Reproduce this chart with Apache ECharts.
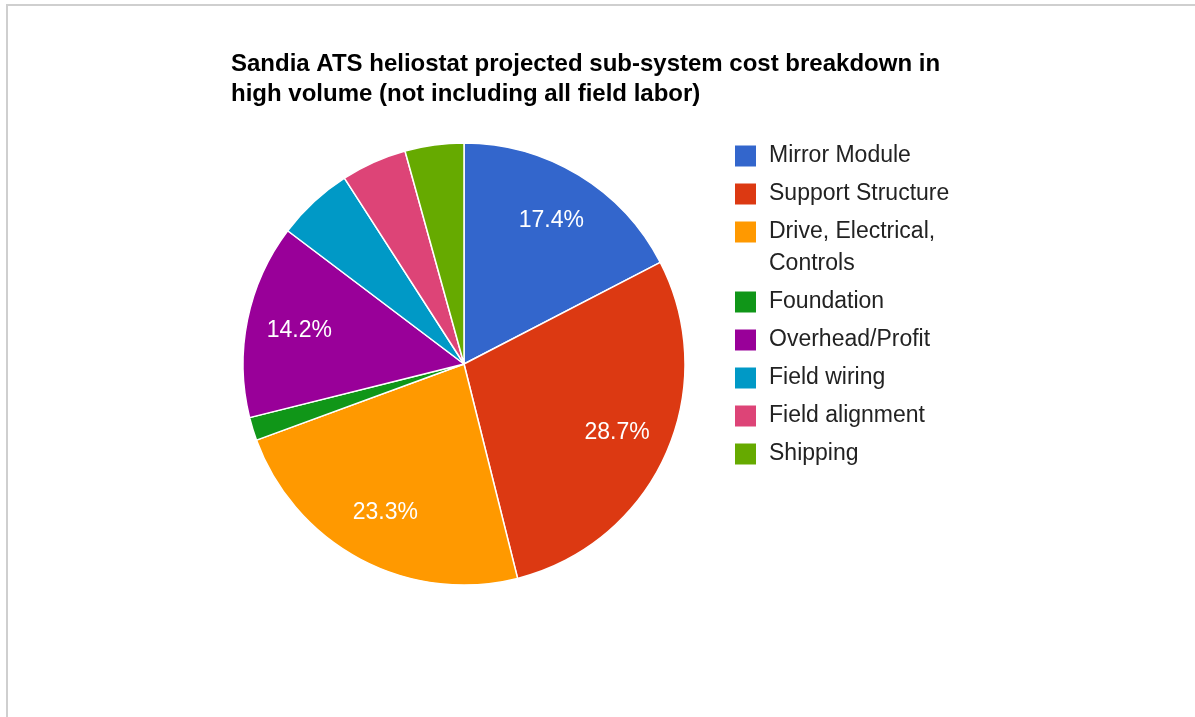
<!DOCTYPE html>
<html>
<head>
<meta charset="utf-8">
<script src="https://cdn.jsdelivr.net/npm/echarts@6/dist/echarts.min.js"></script>
<style>
html,body{margin:0;padding:0;background:#fff;}
#frame{position:absolute;left:6px;top:4px;width:1189px;height:713px;border-left:2px solid #cfcfcf;border-top:2px solid #cfcfcf;box-sizing:border-box;}
#chart{position:absolute;left:0;top:0;width:1195px;height:717px;}
</style>
</head>
<body>
<div id="frame"></div>
<div id="chart"></div>
<script>
var titleLines = ['Sandia ATS heliostat projected sub-system cost breakdown in', 'high volume (not including all field labor)'];
var categories = ['Mirror Module', 'Support Structure', 'Drive, Electrical, Controls', 'Foundation', 'Overhead/Profit', 'Field wiring', 'Field alignment', 'Shipping'];
var values = [17.4, 28.7, 23.3, 1.7, 14.2, 5.6, 4.8, 4.3];
var colors = ['#3366cc', '#dc3912', '#ff9900', '#109618', '#990099', '#0099c6', '#dd4477', '#66aa00'];

var data = categories.map(function (c, i) { return { name: c, value: values[i] }; });
var font = "'Liberation Sans', Arial, sans-serif";

var legendBase = {
  orient: 'vertical',
  left: 733,
  padding: 0,
  itemWidth: 23,
  itemHeight: 23,
  itemGap: 6,
  icon: 'rect',
  textStyle: { fontFamily: font, fontSize: 23, color: '#222', lineHeight: 32, padding: [0, 0, 0, 7] }
};
function mk(extra) { var o = {}; for (var k in legendBase) o[k] = legendBase[k]; for (var k2 in extra) o[k2] = extra[k2]; return o; }

var chart = echarts.init(document.getElementById('chart'));
chart.setOption({
  backgroundColor: 'transparent',
  color: colors,
  animation: false,
  title: {
    text: titleLines.join('\n'),
    left: 226,
    top: 44,
    textStyle: { fontFamily: font, fontSize: 24, fontWeight: 'bold', color: '#000', lineHeight: 30 }
  },
  legend: [
    mk({ top: 140, data: categories.slice(0, 2) }),
    mk({ top: 184, data: categories.slice(2, 3), formatter: function (n) { return '\n' + n.replace(', Controls', ',\nControls'); } }),
    mk({ top: 286, data: categories.slice(3) })
  ],
  series: [
    {
      type: 'pie',
      center: [464, 364],
      radius: [0, 221],
      startAngle: 90,
      clockwise: true,
      data: data,
      label: { show: false },
      labelLine: { show: false },
      itemStyle: { borderColor: '#fff', borderWidth: 1.5 },
      emphasis: { scale: false }
    },
    {
      type: 'pie',
      center: [464, 364],
      radius: [109, 221],
      startAngle: 90,
      clockwise: true,
      silent: true,
      data: data,
      itemStyle: { color: 'rgba(0,0,0,0)', borderWidth: 0 },
      label: {
        show: true,
        position: 'inside',
        fontFamily: font,
        fontSize: 23,
        color: '#fff',
        formatter: function (p) { return p.value > 10 ? p.percent.toFixed(1) + '%' : ''; }
      },
      labelLine: { show: false },
      emphasis: { disabled: true }
    }
  ]
});
</script>
</body>
</html>
